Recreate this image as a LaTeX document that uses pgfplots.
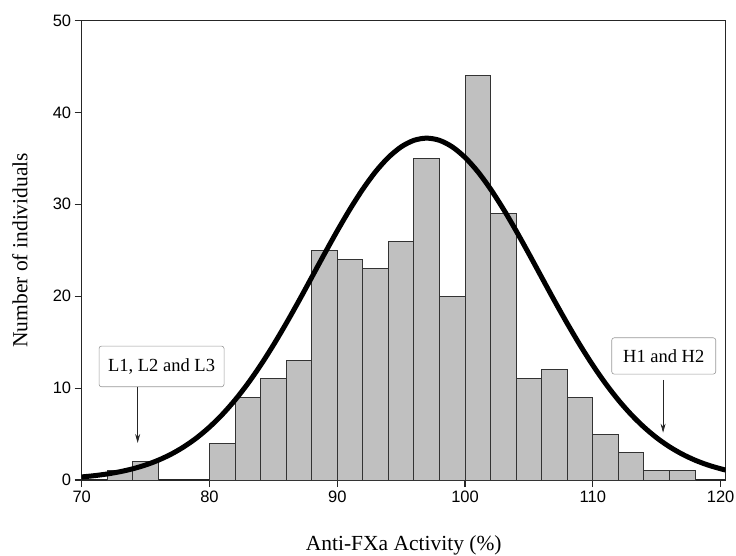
\documentclass[border=0pt]{standalone}
\usepackage{pgfplots}
\pgfplotsset{compat=1.18}
\usepackage{fontspec}
\setmainfont{Liberation Serif}
\newfontfamily\arial{Liberation Sans}
\usetikzlibrary{arrows.meta}
\definecolor{bargray}{RGB}{192,192,192}
\begin{document}
\begin{tikzpicture}
\begin{axis}[
  scale only axis,
  width=644pt, height=459.5pt,
  xmin=70, xmax=120.4, ymin=0, ymax=50,
  xtick={70,80,...,120}, ytick={0,10,...,50},
  tick align=outside, tick pos=left,
  major tick length=7pt,
  axis line style={line width=1.1pt, black!85},
  every tick/.style={line width=1.1pt, black!85},
  /pgf/number format/assume math mode=true,
  tick label style={font=\arial\fontsize{16.5}{19}\selectfont},
  xlabel={Anti-FXa Activity (\%)},
  ylabel={Number of individuals},
  label style={font=\fontsize{21.5}{24}\selectfont},
  xlabel style={at={(axis description cs:0.5,-0.1415)}, anchor=center},
  ylabel style={at={(axis description cs:-0.0958,0.5)}, anchor=center},
]
\addplot[ybar interval, fill=bargray, draw=black!80, line width=0.9pt]
  coordinates {(72,1) (74,2) (76,2)};
\addplot[ybar interval, fill=bargray, draw=black!80, line width=0.9pt]
  coordinates {(80,4) (82,9) (84,11) (86,13) (88,25) (90,24) (92,23) (94,26)
  (96,35) (98,20) (100,44) (102,29) (104,11) (106,12) (108,9) (110,5)
  (112,3) (114,1) (116,1) (118,1)};
\addplot[smooth, line width=5pt, black] coordinates {
  (70,0.336) (71,0.473) (72,0.658) (73,0.903) (74,1.222) (75,1.634) (76,2.158)
  (77,2.811) (78,3.616) (79,4.591) (80,5.758) (81,7.124) (82,8.70) (83,10.49)
  (84,12.49) (85,14.68) (86,17.03) (87,19.50) (88,22.05) (89,24.61) (90,27.11)
  (91,29.48) (92,31.65) (93,33.55) (94,35.10) (95,36.25) (96,36.96) (97,37.2)
  (98,36.96) (99,36.25) (100,35.10) (101,33.55) (102,31.65) (103,29.48)
  (104,27.11) (105,24.61) (106,22.05) (107,19.50) (108,17.03) (109,14.68)
  (110,12.49) (111,10.49) (112,8.70) (113,7.124) (114,5.758) (115,4.591)
  (116,3.616) (117,2.811) (118,2.158) (119,1.634) (120,1.222) (120.4,1.085)};
\node[draw=gray!80, line width=0.6pt, rounded corners=2.5pt, fill=white,
  minimum width=125pt, minimum height=40.7pt, inner sep=0pt,
  font=\fontsize{18.5}{20}\selectfont] at (axis cs:76.25,12.36) {L1, L2 and L3};
\draw[-{Stealth[length=9pt,width=5pt]}, line width=0.7pt, black!85]
  (axis cs:74.38,10.15) -- (axis cs:74.38,4.03);
\node[draw=gray!80, line width=0.6pt, rounded corners=2.5pt, fill=white,
  minimum width=104pt, minimum height=36.3pt, inner sep=0pt,
  font=\fontsize{18.5}{20}\selectfont] at (axis cs:115.55,13.5) {H1 and H2};
\draw[-{Stealth[length=9pt,width=5pt]}, line width=0.7pt, black!85]
  (axis cs:115.5,10.9) -- (axis cs:115.5,5.15);
\end{axis}
\pgfresetboundingbox
\path[use as bounding box] (-81.7pt,-75pt) rectangle (654.3pt,480pt);
\end{tikzpicture}
\end{document}
